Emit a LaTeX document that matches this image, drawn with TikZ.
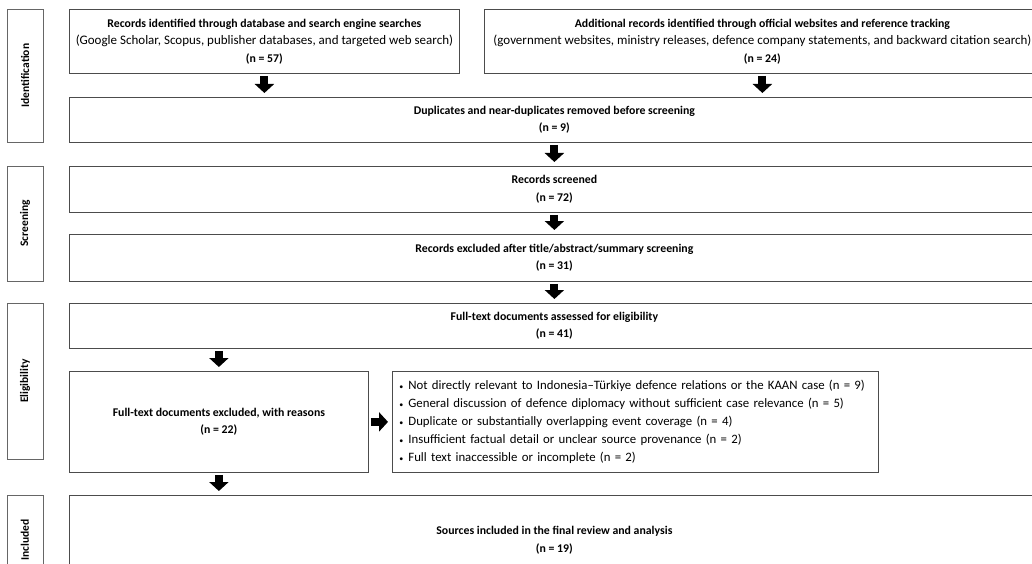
\documentclass[tikz,border=0pt]{standalone}
\usepackage{fontspec}
\setmainfont{Carlito}
\usetikzlibrary{arrows.meta,positioning,fit}

\begin{document}
\begin{tikzpicture}[x=1pt,y=-1pt,
    box/.style={draw=black!70,line width=0.8pt,anchor=north west,align=center,inner sep=2pt,font=\fontsize{11.8}{17.5}\selectfont},
    phase/.style={draw=black!60,line width=0.8pt,rotate=90,minimum height=36pt,inner sep=1pt,font=\fontsize{11.5}{13}\selectfont\bfseries},
    blk/.style={-{Triangle[length=9pt,width=19pt]},line width=8pt,shorten <=2pt,shorten >=4pt}]
    \useasboundingbox (0,0) rectangle (1032,564);
    \clip (0,0) rectangle (1032,564);

    % phases
    \node[phase,minimum width=133pt] (pid) at (25,75.5) {Identification};
    \node[phase,minimum width=115pt] (psc) at (25,223.5) {Screening};
    \node[phase,minimum width=156pt] (pel) at (25,381) {Eligibility};
    \node[phase,minimum width=90pt] (pin) at (25,540) {Included};

    \node[box,minimum width=390pt,minimum height=64pt] (db) at (69,9)
        {\textbf{Records identified through database and search engine searches}\\
         {\fontsize{13}{17.5}\selectfont (Google Scholar, Scopus, publisher databases, and targeted web search)}\\
         \textbf{(n = 57)}};
    \node[box,minimum width=556pt,minimum height=64pt] (web) at (484,9)
        {\textbf{Additional records identified through official websites and reference tracking}\\
         {\fontsize{13}{17.5}\selectfont (government websites, ministry releases, defence company statements, and backward citation search)}\\
         \textbf{(n = 24)}};
    \node[box,minimum width=970pt,minimum height=45pt] (dup) at (69,97)
        {\textbf{Duplicates and near-duplicates removed before screening}\\ \textbf{(n = 9)}};
    \node[box,minimum width=970pt,minimum height=46pt] (scr) at (69,166)
        {\textbf{Records screened}\\ \textbf{(n = 72)}};
    \node[box,minimum width=970pt,minimum height=47pt] (exs) at (69,234)
        {\textbf{Records excluded after title/abstract/summary screening}\\ \textbf{(n = 31)}};
    \node[box,minimum width=970pt,minimum height=45pt] (full) at (69,303)
        {\textbf{Full-text documents assessed for eligibility}\\ \textbf{(n = 41)}};
    \node[box,minimum width=299pt,minimum height=101pt] (exf) at (69,371)
        {\textbf{Full-text documents excluded, with reasons}\\ \textbf{(n = 22)}};
    \node[box,minimum width=485pt,minimum height=101pt,align=left,text width=480pt,inner xsep=3pt,
          font=\fontsize{12.8}{18.2}\selectfont] (why) at (392,371)
        {\hspace{4pt}{\footnotesize\textbullet}\hspace{5pt}Not directly relevant to Indonesia--Türkiye defence relations or the KAAN case (n = 9)\\
         \hspace{4pt}{\footnotesize\textbullet}\hspace{5pt}General discussion of defence diplomacy without sufficient case relevance (n = 5)\\
         \hspace{4pt}{\footnotesize\textbullet}\hspace{5pt}Duplicate or substantially overlapping event coverage (n = 4)\\
         \hspace{4pt}{\footnotesize\textbullet}\hspace{5pt}Insufficient factual detail or unclear source provenance (n = 2)\\
         \hspace{4pt}{\footnotesize\textbullet}\hspace{5pt}Full text inaccessible or incomplete (n = 2)};
    \node[box,minimum width=970pt,minimum height=90pt] (inc) at (69,495)
        {\textbf{Sources included in the final review and analysis}\\ \textbf{(n = 19)}};

    \draw[blk] (db.south) -- (db.south |- dup.north);
    \draw[blk] (web.south) -- (web.south |- dup.north);
    \draw[blk] (dup) -- (scr);
    \draw[blk] (scr) -- (exs);
    \draw[blk] (exs) -- (full);
    \draw[blk] (full.south -| exf.north) -- (exf.north);
    \draw[blk] (exf) -- (why);
    \draw[blk] (exf.south) -- (exf.south |- inc.north);
\end{tikzpicture}
\end{document}
